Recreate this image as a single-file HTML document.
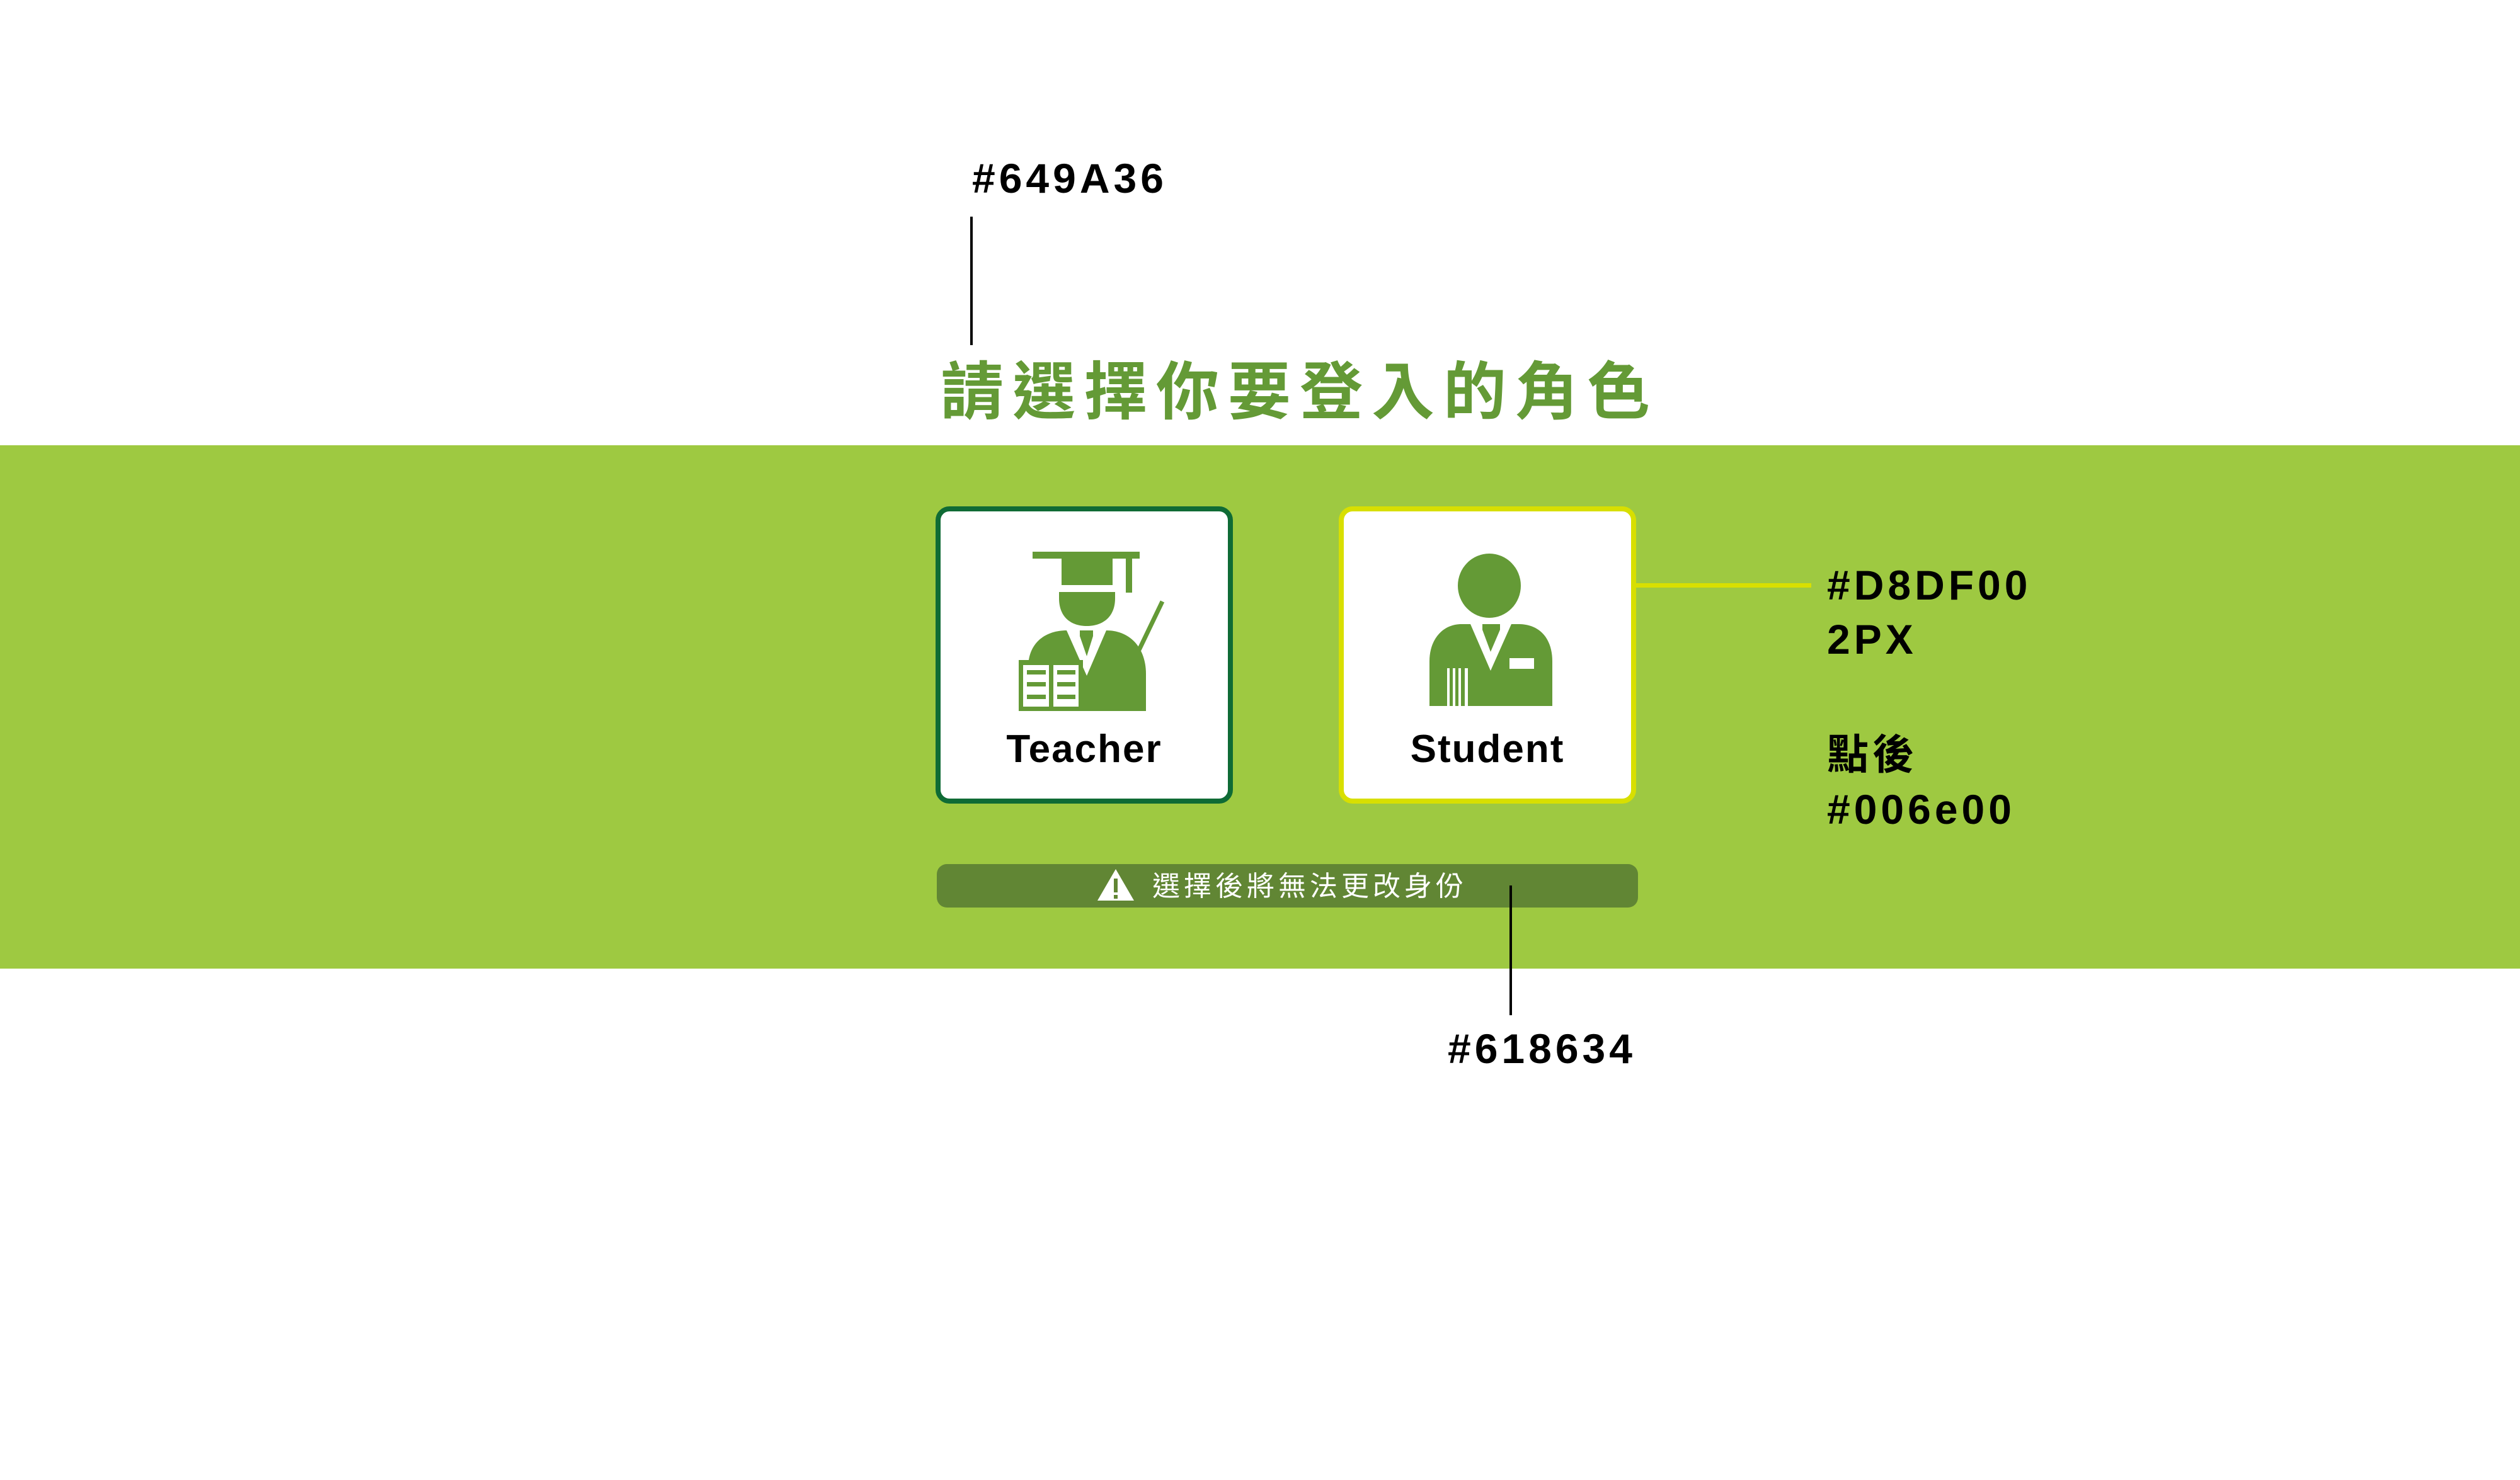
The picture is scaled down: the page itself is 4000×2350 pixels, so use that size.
<!DOCTYPE html>
<html><head><meta charset="utf-8"><style>
html,body{margin:0;padding:0}
body{width:4000px;height:2350px;position:relative;background:#fff;overflow:hidden;font-family:"Liberation Sans","Noto Sans CJK TC",sans-serif}
.abs{position:absolute}
.lbl{position:absolute;font-weight:bold;font-size:66px;color:#000;letter-spacing:6px;line-height:1;white-space:nowrap}
.card{position:absolute;box-sizing:border-box;background:#fff;border-radius:22px;border:8px solid}
.cardtxt{position:absolute;left:0;right:0;text-align:center;font-weight:bold;font-size:62px;letter-spacing:2px;line-height:1}
</style></head><body>
<div class="abs" style="left:0;top:707px;width:4000px;height:831px;background:#9ec941"></div>

<div class="lbl" style="left:1543px;top:250px">#649A36</div>
<div class="abs" style="left:1540px;top:344px;width:4px;height:204px;background:#000"></div>
<div class="abs" style="left:1493px;top:568px;font-size:100px;font-weight:bold;color:#649a36;letter-spacing:14px;line-height:1.1;white-space:nowrap;font-family:'Liberation Sans','Noto Sans CJK TC',sans-serif">請選擇你要登入的角色</div>

<div class="card" style="left:1485px;top:804px;width:472px;height:472px;border-color:#0f6b35">
  <div class="cardtxt" style="top:347px">Teacher</div>
</div>
<div class="card" style="left:2125px;top:804px;width:472px;height:472px;border-color:#d8df00">
  <div class="cardtxt" style="top:347px">Student</div>
</div>

<svg class="abs" style="left:0;top:0" width="4000" height="2350" viewBox="0 0 4000 2350">
  <g fill="#649a36">
    <rect x="1639" y="876" width="170" height="11"/>
    <rect x="1685" y="887" width="81" height="42"/>
    <rect x="1787" y="887" width="10" height="54"/>
    <path d="M1681 940 H1770 V950 C1770 980 1750 994 1725 994 C1700 994 1681 980 1681 950 Z"/>
    <path d="M1632 1129 V1060 C1632 1020 1660 1001 1693 1001 H1756 C1795 1001 1819 1030 1819 1070 V1129 Z"/>
    <path d="M1693 1001 H1756 L1725 1073 Z" fill="#fff"/>
    <path d="M1714 1001 H1735 V1010 L1725 1042 L1714 1010 Z"/>
    <line x1="1845" y1="955" x2="1808" y2="1032" stroke="#649a36" stroke-width="7"/>
    <rect x="1617" y="1048" width="102" height="81"/>
    <rect x="1624" y="1056" width="41" height="66" fill="#fff"/>
    <rect x="1672" y="1056" width="40" height="66" fill="#fff"/>
    <rect x="1630" y="1064" width="30" height="7"/><rect x="1678" y="1064" width="29" height="7"/>
    <rect x="1630" y="1083" width="30" height="7"/><rect x="1678" y="1083" width="29" height="7"/>
    <rect x="1630" y="1103" width="30" height="7"/><rect x="1678" y="1103" width="29" height="7"/>
  </g>
  <g fill="#649a36">
    <ellipse cx="2364" cy="930" rx="50" ry="51"/>
    <path d="M2269 1121 V1050 C2269 1015 2290 991 2320 991 H2410 C2445 991 2464 1015 2464 1050 V1121 Z"/>
    <path d="M2334 991 H2399 L2366 1065 Z" fill="#fff"/>
    <path d="M2353 991 H2381 V1000 L2366 1035 L2353 1000 Z"/>
    <rect x="2396" y="1045" width="39" height="17" fill="#fff"/>
    <rect x="2297" y="1061" width="4" height="60" fill="#fff"/>
    <rect x="2306" y="1061" width="4" height="60" fill="#fff"/>
    <rect x="2315" y="1061" width="4" height="60" fill="#fff"/>
    <rect x="2325" y="1061" width="5" height="60" fill="#fff"/>
  </g>
</svg>

<div class="abs" style="left:2597px;top:926px;width:278px;height:7px;background:#d8df00"></div>
<div class="lbl" style="left:2900px;top:896px">#D8DF00</div>
<div class="lbl" style="left:2900px;top:982px">2PX</div>
<div class="lbl" style="left:2900px;top:1165px;font-family:'Liberation Sans','Noto Sans CJK TC',sans-serif">點後</div>
<div class="lbl" style="left:2900px;top:1252px">#006e00</div>

<div class="abs" style="left:1487px;top:1372px;width:1113px;height:69px;background:#618634;border-radius:16px"></div>
<svg class="abs" style="left:1740px;top:1378px" width="62" height="54" viewBox="0 0 62 54">
  <path d="M31 2 L60 52 H2 Z" fill="#fff"/>
  <rect x="28" y="17" width="6" height="22" fill="#618634"/>
  <rect x="28" y="43" width="6" height="6" fill="#618634"/>
</svg>
<div class="abs" style="left:1829px;top:1384px;font-size:44px;color:#fff;letter-spacing:6px;line-height:1.1;white-space:nowrap;font-family:'Liberation Sans','Noto Sans CJK TC',sans-serif">選擇後將無法更改身份</div>
<div class="abs" style="left:2396px;top:1406px;width:4px;height:206px;background:#000"></div>
<div class="lbl" style="left:2298px;top:1632px">#618634</div>
</body></html>
